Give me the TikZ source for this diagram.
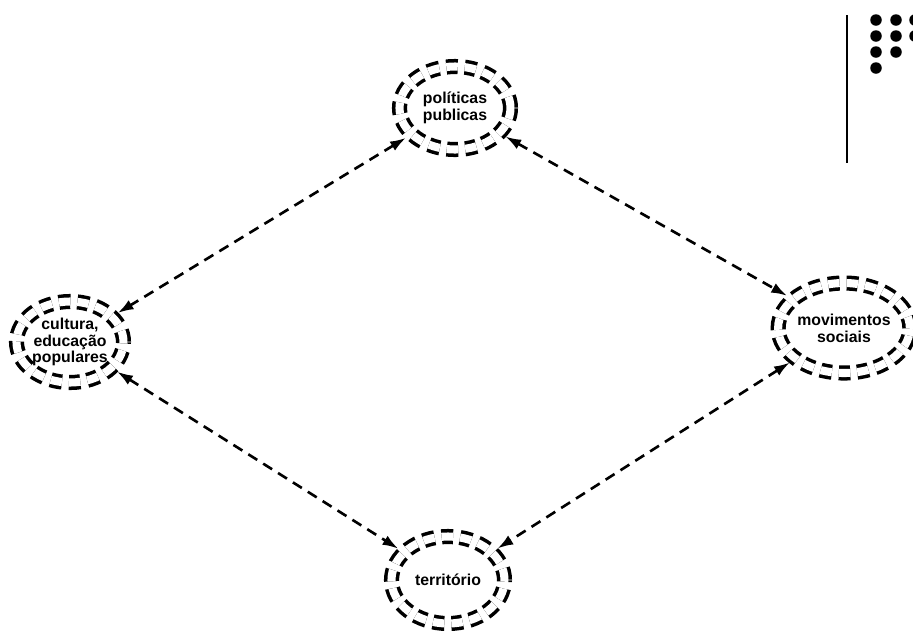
\documentclass[tikz,border=0pt]{standalone}
\usepackage{fontspec}
\setmainfont{Liberation Sans}
\usetikzlibrary{shapes.geometric, arrows.meta}

\begin{document}
\begin{tikzpicture}[x=0.02cm, y=-0.02cm,
    tema/.style={ellipse, draw, double, double distance=4.6pt, line width=2pt,
      dash pattern=on 6.5pt off 4pt, align=center,
      font=\fontsize{9}{9.6}\selectfont\bfseries, inner sep=0pt},
    liga/.style={{Latex[length=9pt,width=6pt]}-{Latex[length=9pt,width=6pt]},
      line width=1.5pt, dash pattern=on 6pt off 4pt, shorten >=3pt, shorten <=3pt}]
  \clip (0,0) rectangle (913,630);
  % temas
  \node (pol) [tema, minimum width=2.22cm, minimum height=1.66cm] at (455,108) {políticas\\publicas};
  \node (cul) [tema, minimum width=2.14cm, minimum height=1.62cm] at (70,342) {cultura,\\educação\\populares};
  \node (mov) [tema, minimum width=2.36cm, minimum height=1.8cm] at (844,328) {movimentos\\sociais};
  \node (ter) [tema, minimum width=2.26cm, minimum height=1.74cm] at (448,580) {território};
  % ligacoes
  \path (pol) edge [liga] (cul);
  \path (pol) edge [liga] (mov);
  \path (cul) edge [liga] (ter);
  \path (mov) edge [liga] (ter);
  % canto
  \draw [line width=1.1pt] (847,15) -- (847,163);
  \foreach \px/\py in {876/20, 896/20, 915/20, 876/36, 896/36, 915/36, 876/52, 896/52, 876/68}
    \fill (\px,\py) circle [radius=0.115cm];
\end{tikzpicture}
\end{document}
